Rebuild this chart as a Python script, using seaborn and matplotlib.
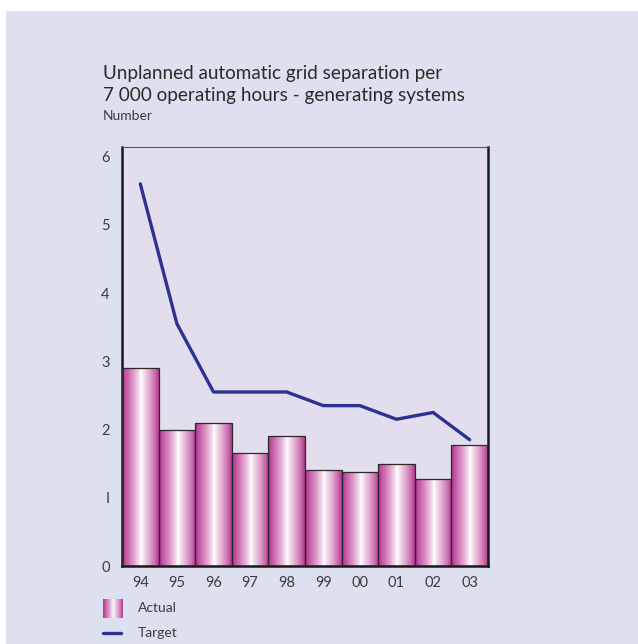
import numpy as np
import pandas as pd
import matplotlib
matplotlib.use("Agg")
import matplotlib.pyplot as plt
from matplotlib.colors import LinearSegmentedColormap
from matplotlib.patches import Rectangle
from matplotlib.lines import Line2D
import seaborn as sns

# Data
years = ["94", "95", "96", "97", "98", "99", "00", "01", "02", "03"]
actual = [2.9, 2.0, 2.1, 1.65, 1.9, 1.4, 1.38, 1.5, 1.28, 1.77]
target = [5.6, 3.55, 2.55, 2.55, 2.55, 2.35, 2.35, 2.15, 2.25, 1.85]
y_ticks = [0, 1, 2, 3, 4, 5, 6]
y_tick_labels = ["0", "I", "2", "3", "4", "5", "6"]

FIG_BG = "#dde0ee"
AX_BG = "#e2deee"
LINE_C = "#2e3192"
TEXT_C = "#2a2a2a"
SOFT_C = "#3c3c3c"

sns.set_theme(style="white")
plt.rcParams["font.family"] = ["Lato", "DejaVu Sans"]

fig = plt.figure(figsize=(6.38, 6.44), dpi=100)
fig.patch.set_facecolor("white")
# lavender panel behind everything
fig.add_artist(Rectangle((6 / 638, 0), 1 - 6 / 638, 1 - 11 / 644, transform=fig.transFigure,
                         facecolor=FIG_BG, edgecolor="none", zorder=-10))

ax = fig.add_axes([122 / 638, 1 - 566 / 644, 366 / 638, 419 / 644])
ax.set_facecolor(AX_BG)

df = pd.DataFrame({"year": years, "actual": actual})
sns.barplot(data=df, x="year", y="actual", width=1.0, color="#c04a98",
            edgecolor="#2a2a2a", linewidth=0.9, ax=ax, zorder=2)

# horizontal magenta-white-magenta shading for every bar
shade = LinearSegmentedColormap.from_list("shade", [
    (0.00, "#b2308c"), (0.12, "#c65aa8"), (0.30, "#de98c8"),
    (0.45, "#f2d8ea"), (0.52, "#ffffff"), (0.58, "#f4e0ee"),
    (0.75, "#e0a6ce"), (0.90, "#ca68ac"), (1.00, "#b4348e")])
grad = np.linspace(0, 1, 256).reshape(1, -1)
for p in list(ax.patches):
    x0, w, h = p.get_x(), p.get_width(), p.get_height()
    p.set_facecolor("none")
    p.set_zorder(3)
    im = ax.imshow(grad, cmap=shade, aspect="auto", extent=[x0, x0 + w, 0, h],
                   interpolation="bicubic", zorder=2.5)
    im.set_clip_path(p)

sns.lineplot(x=np.arange(len(years)), y=target, color=LINE_C, linewidth=2.4,
             ax=ax, zorder=4)

ax.set_xlim(-0.5, len(years) - 0.5)
ax.set_ylim(0, 6.14)
ax.set_yticks(y_ticks)
ax.set_yticklabels(y_tick_labels)
ax.set_xlabel("")
ax.set_ylabel("")
ax.tick_params(axis="both", length=0, labelsize=10.5, labelcolor=SOFT_C)
ax.tick_params(axis="x", pad=7)
ax.tick_params(axis="y", pad=9)

for side in ["left", "bottom", "right"]:
    ax.spines[side].set_visible(True)
    ax.spines[side].set_color("#1a1a1a")
    ax.spines[side].set_linewidth(1.8)
ax.spines["top"].set_visible(True)
ax.spines["top"].set_color("#555555")
ax.spines["top"].set_linewidth(0.8)

# titles
fig.text(103 / 638, 1 - 73 / 644, "Unplanned automatic grid separation per",
         fontsize=13.6, color=TEXT_C, va="center", ha="left")
fig.text(103 / 638, 1 - 95 / 644, "7 000 operating hours - generating systems",
         fontsize=13.6, color=TEXT_C, va="center", ha="left")
fig.text(103 / 638, 1 - 116 / 644, "Number", fontsize=10, color=SOFT_C,
         va="center", ha="left")

# legend
lax = fig.add_axes([103 / 638, 1 - 618 / 644, 20 / 638, 19 / 644])
lax.imshow(grad, cmap=shade, aspect="auto", extent=[0, 1, 0, 1], interpolation="bicubic")
lax.set_axis_off()
fig.text(138 / 638, 1 - 608 / 644, "Actual", fontsize=10, color=SOFT_C,
         va="center", ha="left")
fig.add_artist(Line2D([103 / 638, 121 / 638], [1 - 633 / 644, 1 - 633 / 644],
                      transform=fig.transFigure, color=LINE_C, linewidth=2.4))
fig.text(138 / 638, 1 - 633 / 644, "Target", fontsize=10, color=SOFT_C,
         va="center", ha="left")

fig.savefig("out.png", dpi=100)
